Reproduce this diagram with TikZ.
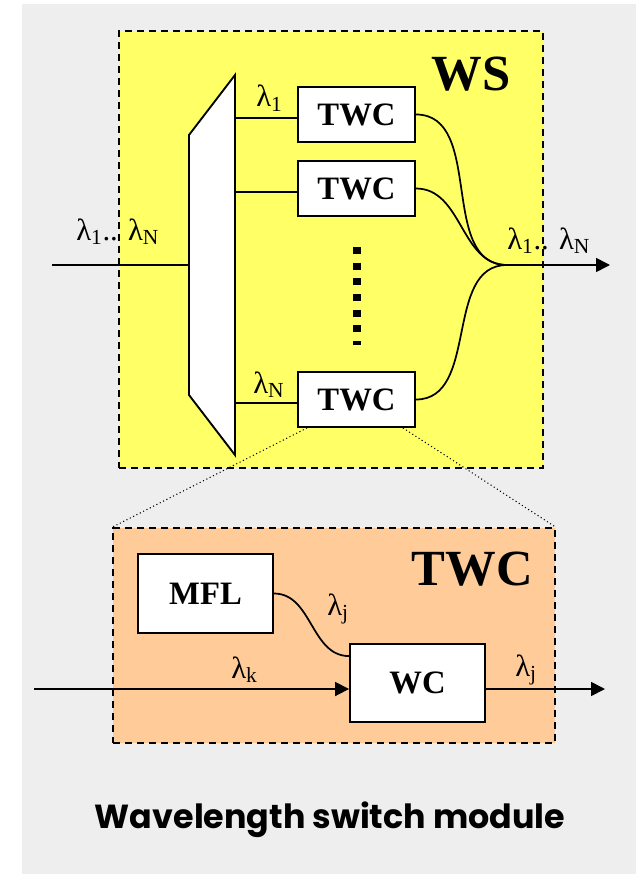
\documentclass[tikz,border=0pt]{standalone}
\usepackage{fontspec}
\setmainfont{Liberation Serif}
\newfontfamily\capfont{Poppins}
\usetikzlibrary{arrows.meta}

\definecolor{bggray}{RGB}{238,238,238}
\definecolor{wsyellow}{RGB}{255,255,102}
\definecolor{twcorange}{RGB}{255,204,153}

\tikzset{
  unit/.style={draw, fill=white, line width=1.4pt, inner sep=0pt,
    font=\fontsize{24.5}{24.5}\selectfont\bfseries},
  zone/.style={draw, dash pattern=on 5.5pt off 3.5pt, line width=1.2pt, inner sep=0pt},
  fibre/.style={line width=1.3pt},
  lam/.style={font=\fontsize{23}{23}\selectfont, inner sep=0pt},
  biglabel/.style={font=\fontsize{38}{38}\selectfont\bfseries, inner sep=0pt},
  zoomline/.style={line width=0.8pt, dotted},
}

\begin{document}
\begin{tikzpicture}[x=0.75pt, y=-0.75pt, >={Triangle[length=10.5pt,width=10.5pt]}]
    \useasboundingbox (0,0) rectangle (636,874);
    \fill[bggray] (22,4) rectangle (636,874);

    % WS zone
    \node[zone, fill=wsyellow, minimum width=318pt, minimum height=327.75pt] (ws) at (331,249.5) {};
    \node[biglabel, anchor=base east] (wslabel) at (511,90) {WS};

    % Demultiplexer
    \draw[fill=white, line width=1.4pt] (189,135) -- (235,75) -- (235,455) -- (189,395) -- cycle;
    \coordinate (dmxin) at (189,265);
    \coordinate (dmx1) at (235,118);
    \coordinate (dmx2) at (235,192);
    \coordinate (dmx3) at (235,403);

    % Nodes
    \node[unit, minimum width=87.75pt, minimum height=41.25pt] (twc1) at (356.5,114.5) {TWC};
    \node[unit, minimum width=87.75pt, minimum height=41.25pt] (twc2) at (356.5,188.5) {TWC};
    \node[unit, minimum width=87.75pt, minimum height=41.25pt] (twc3) at (356.5,399.5) {TWC};

    % Fibres
    \coordinate (in) at (52,265);
    \coordinate (mrg) at (507,265);
    \coordinate (out) at (610,265);
    \draw[fibre] (in) -- (dmxin);
    \draw[fibre] (dmx1) -- (dmx1 -| twc1.west);
    \draw[fibre] (dmx2) -- (dmx2 -| twc2.west);
    \draw[fibre] (dmx3) -- (dmx3 -| twc3.west);
    \draw[fibre] (twc1.east) to[out=0, in=180] (mrg);
    \draw[fibre] (twc2.east) to[out=0, in=180] (mrg);
    \draw[fibre] (twc3.east) to[out=0, in=180] (mrg);
    \draw[fibre, ->] (mrg) -- (out);

    % Dots
    \coordinate (dtop) at (357,247);
    \coordinate (dbot) at (357,345);
    \draw[line width=6pt, dash pattern=on 5.25pt off 6.5pt] (dtop) -- (dbot);

    % Wavelength labels
    \node[lam, anchor=base west] (lamin) at (76,240) {λ\textsubscript{1}.. λ\textsubscript{N}};
    \node[lam, anchor=base west] (lam1) at (256,107) {λ\textsubscript{1}};
    \node[lam, anchor=base west] (lamN) at (253,393) {λ\textsubscript{N}};
    \node[lam, anchor=base west] (lamout) at (507,249) {λ\textsubscript{1}.. λ\textsubscript{N}};

    % TWC zone
    \node[zone, fill=twcorange, minimum width=331.5pt, minimum height=161.25pt] (twcz) at (334,635.5) {};
    \node[biglabel, anchor=base east] (twclabel) at (533,585) {TWC};
    \draw[zoomline] ([xshift=7.5pt]twc3.south west) -- (twcz.north west);
    \draw[zoomline] ([xshift=-9.75pt]twc3.south east) -- (twcz.north east);

    \node[unit, minimum width=101.25pt, minimum height=59.25pt] (mfl) at (205.5,593.5) {MFL};
    \node[unit, minimum width=101.25pt, minimum height=58.5pt] (wc) at (417.5,683) {WC};

    \coordinate (kin) at (34,689);
    \coordinate (jout) at (605,689);
    \draw[fibre] (mfl.east) to[out=0, in=180] ([yshift=-9.75pt]wc.north west);
    \draw[fibre, ->] (kin) -- (kin -| wc.west);
    \draw[fibre, ->] (kin -| wc.east) -- (jout);

    \node[lam, anchor=base west] (lamj) at (327,615) {λ\textsubscript{j}};
    \node[lam, anchor=base west] (lamk) at (231,678) {λ\textsubscript{k}};
    \node[lam, anchor=base west] (lamjout) at (515,676) {λ\textsubscript{j}};

    % Caption
    \node[font=\capfont\bfseries\fontsize{25}{25}\selectfont, anchor=base, inner sep=0pt] (title) at (330,828) {Wavelength switch module};
\end{tikzpicture}
\end{document}
